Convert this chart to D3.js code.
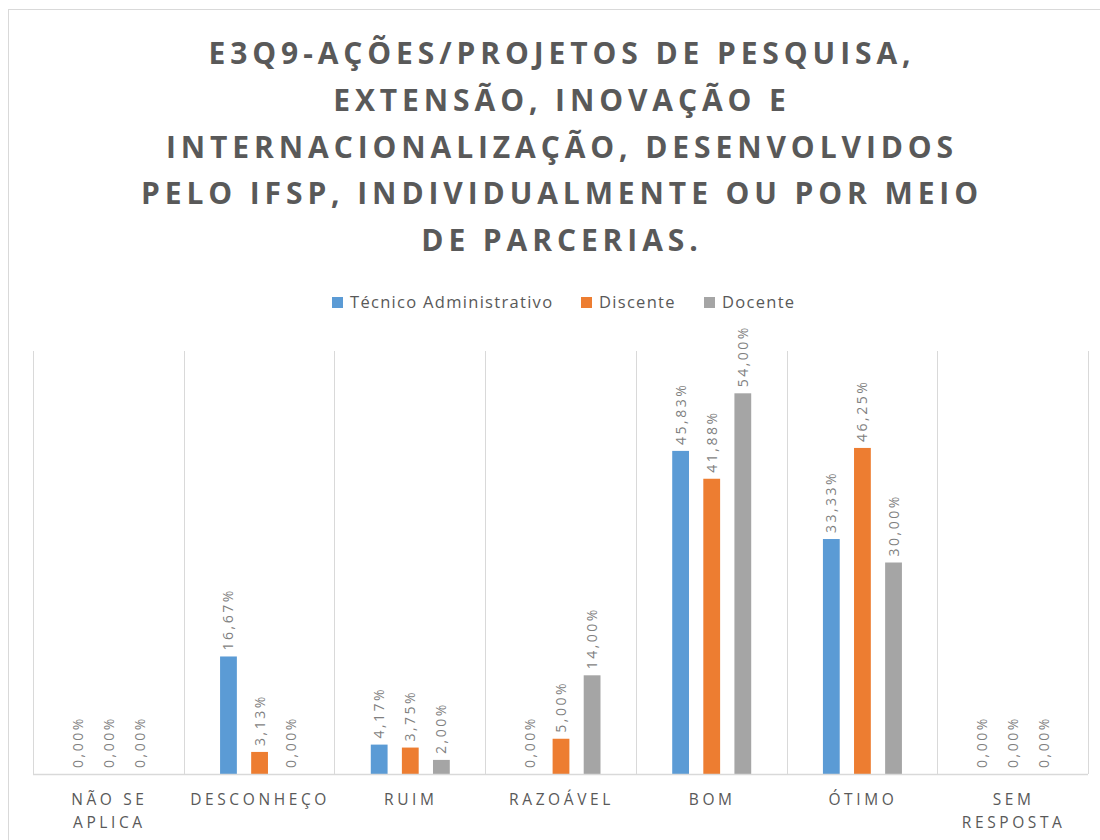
<!DOCTYPE html>
<html>
<head>
<meta charset="utf-8">
<script src="https://cdn.jsdelivr.net/npm/d3@7"></script>
<style>
    body { margin: 0; background: #fff; }
    text { font-family: "Open Sans", sans-serif; }
</style>
</head>
<body>
<div id="chart"></div>
<script>
// ######### DATA ###########
var categories = [["NÃO SE", "APLICA"], ["DESCONHEÇO"], ["RUIM"], ["RAZOÁVEL"], ["BOM"], ["ÓTIMO"], ["SEM", "RESPOSTA"]];
var seriesNames = ["Técnico Administrativo", "Discente", "Docente"];
var tecnico = [0.00, 16.67, 4.17, 0.00, 45.83, 33.33, 0.00];
var discente = [0.00, 3.13, 3.75, 5.00, 41.88, 46.25, 0.00];
var docente = [0.00, 0.00, 2.00, 14.00, 54.00, 30.00, 0.00];
var titleLines = ["E3Q9-AÇÕES/PROJETOS DE PESQUISA,", "EXTENSÃO, INOVAÇÃO E",
    "INTERNACIONALIZAÇÃO, DESENVOLVIDOS", "PELO IFSP, INDIVIDUALMENTE OU POR MEIO", "DE PARCERIAS."];

// ######### PARAMETERS ###########
var width = 1100, height = 840;
var plot = {left: 33, right: 1088, top: 351, bottom: 774};
var colors = ["#5b9bd5", "#ed7d31", "#a5a5a5"];
var gridColor = "#d9d9d9", textColor = "#595959";

var series = [tecnico, discente, docente];

var svg = d3.select("#chart").append("svg")
    .attr("width", width)
    .attr("height", height);

// outer chart border
svg.append("rect")
    .attr("x", 8.5).attr("y", 9.5)
    .attr("width", 1200).attr("height", 1000)
    .attr("fill", "none")
    .attr("stroke", gridColor);

// title
svg.append("g").selectAll("text")
    .data(titleLines)
    .enter().append("text")
    .attr("x", 562)
    .attr("y", function(d, i) { return 64 + i * 46.8; })
    .attr("text-anchor", "middle")
    .style("font-size", "30px")
    .style("font-weight", "bold")
    .style("letter-spacing", "4.9px")
    .attr("fill", textColor)
    .text(function(d) { return d; });

// legend
var legendX = [332, 581, 704];
var legend = svg.append("g").selectAll("g")
    .data(seriesNames)
    .enter().append("g")
    .attr("transform", function(d, i) { return "translate(" + legendX[i] + ",302)"; });
legend.append("rect")
    .attr("x", 0).attr("y", -5)
    .attr("width", 11).attr("height", 11)
    .attr("fill", function(d, i) { return colors[i]; });
legend.append("text")
    .attr("x", 18).attr("y", 6)
    .style("font-size", "16.5px")
    .style("letter-spacing", "1.3px")
    .attr("fill", textColor)
    .text(function(d) { return d; });

// scales
var x0 = d3.scaleBand()
    .domain(d3.range(categories.length))
    .range([plot.left, plot.right]);

var bw = x0.bandwidth();
var x1 = d3.scaleBand()
    .domain(d3.range(series.length))
    .range([bw / 2 - 39, bw / 2 + 40])
    .paddingInner(0.46);

var y = d3.scaleLinear()
    .domain([0, 60])
    .range([plot.bottom, plot.top]);

// vertical category separators
svg.append("g").selectAll("line")
    .data(d3.range(categories.length + 1))
    .enter().append("line")
    .attr("x1", function(i) { return Math.round(plot.left + i * bw) + 0.5; })
    .attr("x2", function(i) { return Math.round(plot.left + i * bw) + 0.5; })
    .attr("y1", plot.top)
    .attr("y2", plot.bottom)
    .attr("stroke", gridColor);

// bars
var groups = svg.append("g").selectAll("g")
    .data(categories)
    .enter().append("g")
    .attr("transform", function(d, i) { return "translate(" + x0(i) + ",0)"; });

groups.selectAll("rect")
    .data(function(d, i) { return series.map(function(s, j) { return {s: j, v: s[i]}; }); })
    .enter().append("rect")
    .attr("x", function(d) { return x1(d.s); })
    .attr("width", x1.bandwidth())
    .attr("y", function(d) { return y(d.v); })
    .attr("height", function(d) { return y(0) - y(d.v); })
    .attr("fill", function(d) { return colors[d.s]; });

// data labels
groups.selectAll("text")
    .data(function(d, i) { return series.map(function(s, j) { return {s: j, v: s[i]}; }); })
    .enter().append("text")
    .attr("transform", function(d) {
        var cx = x1(d.s) + x1.bandwidth() / 2 + 5;
        return "translate(" + cx + "," + (y(d.v) - 6) + ") rotate(-90)";
    })
    .style("font-size", "14px")
    .style("letter-spacing", "2.5px")
    .attr("fill", "#7f7f7f")
    .text(function(d) { return d.v.toFixed(2).replace(".", ",") + "%"; });

// baseline
svg.append("line")
    .attr("x1", plot.left).attr("x2", plot.right)
    .attr("y1", plot.bottom + 0.5).attr("y2", plot.bottom + 0.5)
    .attr("stroke", gridColor)
    .attr("stroke-width", 1.5);

// category labels
var catLabels = svg.append("g").selectAll("text")
    .data(categories)
    .enter().append("text")
    .attr("text-anchor", "middle")
    .style("font-size", "15.5px")
    .style("letter-spacing", "3.6px")
    .attr("fill", textColor);

catLabels.selectAll("tspan")
    .data(function(d, i) { return d.map(function(t) { return {t: t, i: i}; }); })
    .enter().append("tspan")
    .attr("x", function(d) { return x0(d.i) + bw / 2 + 1; })
    .attr("y", function(d, k) { return 805 + k * 23; })
    .text(function(d) { return d.t; });
</script>
</body>
</html>
